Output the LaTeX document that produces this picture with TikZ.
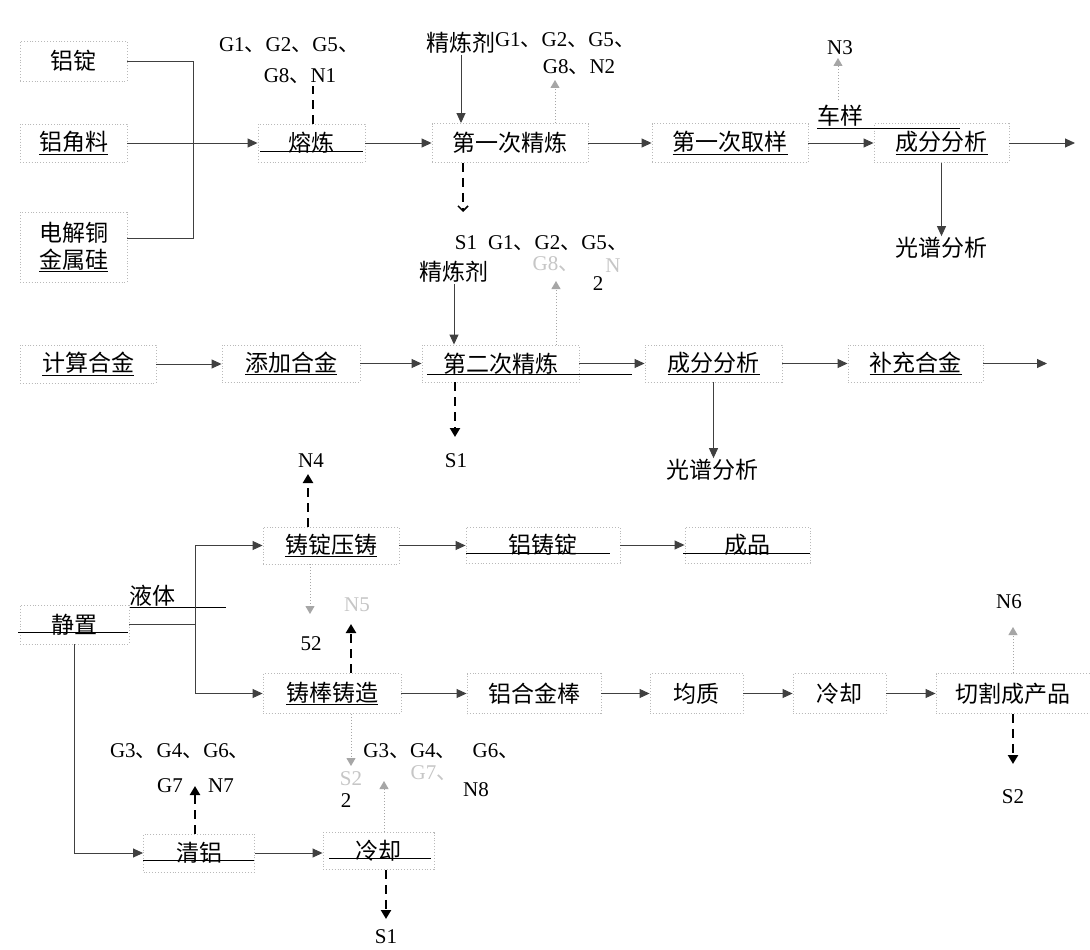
\documentclass[tikz,border=0pt]{standalone}
\usepackage{fontspec}
\setmainfont{Liberation Serif}
\newfontfamily\cjk{Noto Sans CJK SC}
\usetikzlibrary{arrows.meta}
\newcommand{\dn}{{\cjk 、}}
\begin{document}
\begin{tikzpicture}[x=1pt,y=-1pt,
  box/.style={draw=gray!55, dotted, line width=0.9pt, inner sep=0pt, font=\cjk\fontsize{23}{27}\selectfont, text=black},
  zh/.style={font=\cjk\fontsize{23}{27}\selectfont, inner sep=1pt},
  lab/.style={font=\fontsize{21}{24}\selectfont, inner sep=1pt},
  faded/.style={text=gray!45},
  conn/.style={draw=black!75, line width=0.9pt},
  arr/.style={conn, -{Triangle[length=10pt,width=9pt]}},
  emisn/.style={draw=black, line width=2.6pt, dash pattern=on 9pt off 6pt},
  emis/.style={emisn, -{Triangle[length=9pt,width=10pt]}},
  emisv/.style={emisn, -{Straight Barb[length=5pt,width=10pt,line width=1.5pt]}},
  dotv/.style={draw=gray!70, dotted, line width=1pt, -{Triangle[length=8pt,width=9pt]}},
  ul/.style={draw=black, line width=0.9pt},
]
\useasboundingbox (0,0) rectangle (1090,950);
\fill[white] (0,0) rectangle (1090,950);

% ---------- row 1 ----------
\node[box,minimum width=107pt,minimum height=40pt] (luding) at (73.5,61) {铝锭};
\node[box,minimum width=107pt,minimum height=38pt] (jiaoliao) at (73.5,143) {\underline{铝角料}};
\node[box,minimum width=107pt,minimum height=70pt,align=center] (dianjie) at (73.5,247) {电解铜\\\underline{金属硅}};
\coordinate (m1) at (193,143);
\node[box,minimum width=107pt,minimum height=38pt] (ronglian) at (311.5,143) {熔炼};
\draw[ul] (260,151) -- (363,151);
\draw[conn] (luding.east) -| (m1);
\draw[conn] ([yshift=9pt]dianjie.east) -| (m1);
\draw[arr] (jiaoliao.east) -- (ronglian.west);

\node[lab] (g1) at (289,45) {G1\dn G2\dn G5\dn};
\node[lab] (n1) at (300,76) {G8\dn N1};
\coordinate (n1e) at (313,86);
\draw[emisn] (ronglian.north -| n1e) -- (n1e);

\node[zh] (jlj1) at (461,43) {精炼剂};
\node[box,minimum width=156pt,minimum height=39pt] (jl1) at (510,143) {第一次精炼};
\draw[arr] (jlj1.south) -- (jlj1.south |- jl1.north);
\node[lab] (g2) at (565,40) {G1\dn G2\dn G5\dn};
\node[lab] (n2) at (579,67) {G8\dn N2};
\coordinate (n2e) at (555,80);
\draw[dotv] (jl1.north -| n2e) -- (n2e);
\coordinate (s1e) at (463,212);
\draw[emisv] (jl1.south -| s1e) -- (s1e);
\node[lab] (s1a) at (466,243) {S1};
\node[lab] (g3) at (558,243) {G1\dn G2\dn G5\dn};

\node[box,minimum width=156pt,minimum height=39pt] (qy1) at (730,143) {\underline{第一次取样}};
\node[box,minimum width=135pt,minimum height=39pt] (cf1) at (941.5,143) {\underline{成分分析}};
\draw[arr] (ronglian.east) -- (jl1.west);
\draw[arr] (jl1.east) -- (qy1.west);
\draw[arr] (qy1.east) -- (cf1.west);
\node[zh] (cy) at (840,116) {车样};
\draw[ul] (817,128) -- (960,128);
\node[lab] (n3) at (840,48) {N3};
\coordinate (n3s) at (838,100);
\coordinate (n3e) at (838,58);
\draw[dotv] (n3s) -- (n3e);
\coordinate (o1) at (1075,143);
\draw[arr] (cf1.east) -- (o1);
\node[zh] (gp1) at (941,248) {光谱分析};
\draw[arr] (cf1.south) -- (cf1.south |- gp1.north);

% ---------- row 2 ----------
\node[zh] (jlj2) at (454,272) {精炼剂};
\node[lab,faded] (g8f) at (556,264) {G8\dn};
\node[lab,faded,inner sep=0pt] (nf) at (613,266) {N};
\node[lab,inner sep=0pt] (two1) at (598,284) {2};
\node[box,minimum width=136pt,minimum height=38pt] (js) at (88,364) {\underline{计算合金}};
\node[box,minimum width=138pt,minimum height=37pt] (tj) at (291,363.5) {\underline{添加合金}};
\node[box,minimum width=157pt,minimum height=37pt] (jl2) at (500.5,363.5) {第二次精炼};
\draw[ul] (427,374) -- (632,374);
\node[box,minimum width=137pt,minimum height=37pt] (cf2) at (713.5,363.5) {\underline{成分分析}};
\node[box,minimum width=135pt,minimum height=37pt] (bc) at (915.5,363.5) {\underline{补充合金}};
\coordinate (o2) at (1047,363.5);
\draw[arr] (js.east) -- (js.east -| tj.west);
\draw[arr] (tj.east) -- (jl2.west);
\draw[arr] (jl2.east) -- (cf2.west);
\draw[arr] (cf2.east) -- (bc.west);
\draw[arr] (bc.east) -- (o2);
\draw[arr] (jlj2.south) -- (jlj2.south |- jl2.north);
\coordinate (n2be) at (556,281);
\draw[dotv] (jl2.north -| n2be) -- (n2be);
\coordinate (s1be) at (455,437);
\draw[emis] (jl2.south -| s1be) -- (s1be);
\node[lab] (s1b) at (456,461) {S1};
\node[zh] (gp2) at (712,470) {光谱分析};
\draw[arr] (cf2.south) -- (cf2.south |- gp2.north);

% ---------- row 3 ----------
\node[box,minimum width=136pt,minimum height=37pt] (zd) at (331,545.5) {\underline{铸锭压铸}};
\node[box,minimum width=154pt,minimum height=36pt] (lzd) at (543,545) {铝铸锭};
\draw[ul] (466,553) -- (610,553);
\node[box,minimum width=125pt,minimum height=36pt] (cp) at (747.5,545) {成品};
\draw[ul] (683,553) -- (810,553);
\draw[arr] (zd.east) -- (zd.east -| lzd.west);
\draw[arr] (lzd.east) -- (cp.west);
\node[lab] (n4) at (311,461) {N4};
\coordinate (n4e) at (308,474);
\draw[emis] (zd.north -| n4e) -- (n4e);

\node[box,minimum width=109pt,minimum height=39pt] (jz) at (74.5,624.5) {静置};
\draw[ul] (18,632) -- (128,632);
\node[zh] (yt) at (152,596) {液体};
\draw[ul] (130,607) -- (226,607);
\coordinate (m2) at (195,624.5);
\draw[conn] (jz.east) -- (m2);
\node[box,minimum width=138pt,minimum height=40pt] (zb) at (332,693.5) {\underline{铸棒铸造}};
\draw[arr] (m2) |- (zd.west);
\draw[arr] (m2) |- (zb.west);
\node[lab] (n52) at (311,644) {52};
\coordinate (n52e) at (310,614);
\draw[dotv] (zd.south -| n52e) -- (n52e);
\node[lab,faded] (n5) at (357,605) {N5};
\coordinate (n5e) at (351,624);
\draw[emis] (zb.north -| n5e) -- (n5e);

\node[box,minimum width=134pt,minimum height=40pt] (lhj) at (534,693.5) {铝合金棒};
\node[box,minimum width=93pt,minimum height=40pt] (jzh) at (696.5,693.5) {均质};
\node[box,minimum width=93pt,minimum height=40pt] (lq1) at (839.5,693.5) {冷却};
\node[box,minimum width=154pt,minimum height=40pt] (qg) at (1013,693.5) {切割成产品};
\draw[arr] (zb.east) -- (lhj.west);
\draw[arr] (lhj.east) -- (jzh.west);
\draw[arr] (jzh.east) -- (lq1.west);
\draw[arr] (lq1.east) -- (qg.west);
\node[lab] (n6) at (1009,602) {N6};
\coordinate (n6e) at (1013,627);
\draw[dotv] (qg.north -| n6e) -- (n6e);
\coordinate (s2e) at (1013,764);
\draw[emis] (qg.south -| s2e) -- (s2e);
\node[lab] (s2) at (1013,797) {S2};

% ---------- bottom ----------
\node[box,minimum width=111pt,minimum height=38pt] (ql) at (199,853) {清铝};
\draw[ul] (143,860) -- (254,860);
\node[box,minimum width=111pt,minimum height=37pt] (lq2) at (378.5,851) {冷却};
\draw[ul] (329,858) -- (431,858);
\draw[arr] (jz.south) |- (ql.west);
\draw[arr] (ql.east) -- (ql.east -| lq2.west);
\node[lab] (g7a) at (180,751) {G3\dn G4\dn G6\dn};
\node[lab] (g7b) at (170,786) {G7};
\node[lab] (n7) at (221,786) {N7};
\coordinate (n7e) at (195,786);
\draw[emis] (ql.north -| n7e) -- (n7e);
\coordinate (s2be) at (351,766);
\draw[dotv] (zb.south -| s2be) -- (s2be);
\node[lab,faded] (s2f) at (351,779) {S2};
\node[lab] (two2) at (346,801) {2};
\coordinate (n8e) at (384,781);
\draw[dotv] (lq2.north -| n8e) -- (n8e);
\node[lab] (g8a) at (410,751) {G3\dn G4\dn};
\node[lab] (g8b) at (496,751) {G6\dn};
\node[lab,faded] (g7f) at (434,773) {G7\dn};
\node[lab] (n8) at (476,790) {N8};
\coordinate (s1ce) at (386,919);
\draw[emis] (lq2.south -| s1ce) -- (s1ce);
\node[lab] (s1c) at (386,937) {S1};
\end{tikzpicture}
\end{document}
